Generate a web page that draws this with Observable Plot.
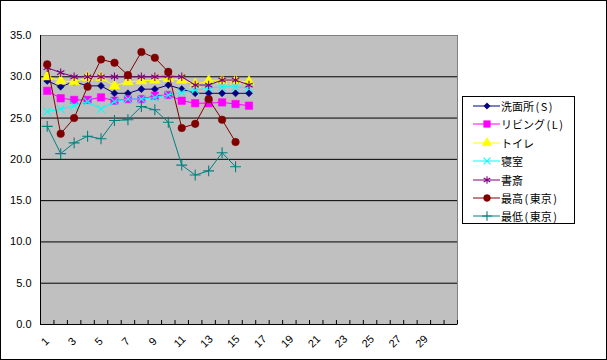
<!DOCTYPE html>
<html><head><meta charset="utf-8">
<script src="https://cdn.jsdelivr.net/npm/d3@7"></script>
<script src="https://cdn.jsdelivr.net/npm/@observablehq/plot@0.6"></script>
<style>
body{margin:0;background:#fff;}
#wrap{position:relative;width:607px;height:360px;overflow:hidden;background:#fff;}
#border{position:absolute;left:0;top:0;width:607px;height:360px;box-sizing:border-box;border:1px solid #000;pointer-events:none;}
#legend{position:absolute;left:462px;top:96px;width:113px;height:128px;box-sizing:border-box;border:1px solid #000;background:#fff;font-family:"Noto Sans CJK JP","Noto Sans",sans-serif;font-size:11px;color:#000;}
.item{position:absolute;left:0;height:16px;display:flex;align-items:center;white-space:nowrap;}
.item svg{display:block;}
.p{display:inline-block;margin:0 1.5px;}
</style></head>
<body>
<div id="wrap"></div>
<script>
const seriesNames = ["洗面所(S)","リビング(L)","トイレ","寝室","書斎","最高(東京)","最低(東京)"];
const senmenjo = [29.5,28.8,29.4,28.9,28.9,28.0,28.0,28.5,28.5,29.0,28.5,28.0,28.0,28.0,28.0,28.0];
const living   = [28.3,27.4,27.2,27.2,27.5,27.1,27.3,27.3,27.7,27.8,27.1,26.8,26.8,26.9,26.7,26.5];
const toilet   = [30.0,29.5,29.4,29.9,29.9,28.9,29.4,29.5,29.6,29.8,29.6,29.1,29.5,29.5,29.5,29.4];
const shinshitsu = [25.8,26.1,26.5,27.0,26.1,27.0,27.3,27.3,27.5,27.8,28.1,28.4,28.6,28.8,28.8,28.6];
const shosai   = [31.1,30.5,30.0,30.0,30.0,30.0,30.0,30.0,30.0,30.1,30.0,29.0,29.0,29.6,29.6,29.0];
const tokyoMax = [31.5,23.1,25.0,28.8,32.1,31.7,30.2,33.0,32.3,30.6,23.8,24.3,27.3,24.8,22.1];
const tokyoMin = [24.0,20.7,22.0,22.8,22.5,24.7,24.8,26.4,26.0,24.5,19.3,18.1,18.6,20.8,19.1];
const dayCount = 31;
const xTickLabels = [1,3,5,7,9,11,13,15,17,19,21,23,25,27,29];
const yTicks = [0,5,10,15,20,25,30,35];

const seriesValues = [senmenjo, living, toilet, shinshitsu, shosai, tokyoMax, tokyoMin];
const styles = [
  {color:"#000080", symbol:"diamond2", r:3.2, filled:true},
  {color:"#FF00FF", symbol:"square", r:4.2, filled:true},
  {color:"#FFFF00", symbol:"triangle", r:4.0, filled:true},
  {color:"#00FFFF", symbol:"times", r:3.6, filled:false},
  {color:"#800080", symbol:"asterisk", r:4.0, filled:false},
  {color:"#800000", symbol:"circle", r:3.8, filled:true},
  {color:"#008080", symbol:"plus", r:3.6, filled:false}
];

const tables = seriesValues.map((vals, s) => vals.map((v, i) => ({day: i + 1, value: v, series: seriesNames[s]})));
const boundaries = d3.range(0.5, dayCount + 1, 1);

const marks = [
  Plot.frame({fill:"#C0C0C0", stroke:"#808080"}),
  Plot.ruleY(yTicks.filter(d => d > 0 && d < 35), {stroke:"#000", strokeWidth:1}),
  Plot.ruleY([0], {stroke:"#000"}),
  Plot.ruleX([0.5], {stroke:"#000"}),
  Plot.ruleX(boundaries, {x: d => d, y1: 0, y2: 0, insetTop: -4, stroke:"#000"}),
  Plot.text(xTickLabels, {x: d => d, y: 0, dy: 17, dx: -2, rotate: -45, text: d => String(d), fontSize: 11, fontFamily: "Liberation Sans, Arial, sans-serif", fill:"#000"}),
  Plot.axisY({ticks: yTicks, tickFormat: d => d.toFixed(1), tickSize: 0, tickPadding: 9, fontSize: 11, fontFamily: "Liberation Sans, Arial, sans-serif", label: null})
];
tables.forEach((t, s) => {
  const st = styles[s];
  marks.push(Plot.line(t, {x:"day", y:"value", stroke: st.color, strokeWidth: 1}));
  marks.push(Plot.dot(t, {x:"day", y:"value", symbol: () => st.symbol, r: st.r,
    fill: st.filled ? st.color : "none", stroke: st.color, strokeWidth: st.filled ? 0.5 : 1.1}));
});

const chart = Plot.plot({
  width: 607, height: 360,
  marginLeft: 40, marginRight: 150, marginTop: 35, marginBottom: 36,
  style: {background: "transparent", overflow: "visible"},
  x: {domain: [0.5, dayCount + 0.5], axis: null},
  y: {domain: [0, 35], axis: null},
  marks
});

const wrap = document.getElementById("wrap");
wrap.appendChild(chart);

// legend
const legend = document.createElement("div");
legend.id = "legend";
const symMap = {diamond2: d3.symbolDiamond2, square: d3.symbolSquare, triangle: d3.symbolTriangle, times: d3.symbolTimes, asterisk: d3.symbolAsterisk, circle: d3.symbolCircle, plus: d3.symbolPlus};
seriesNames.forEach((name, s) => {
  const st = styles[s];
  const item = document.createElement("div");
  item.className = "item";
  item.style.top = (9 + 18.4 * s - 8) + "px";
  const svg = d3.create("svg").attr("width", 38).attr("height", 16);
  svg.append("line").attr("x1", 10).attr("x2", 37).attr("y1", 8).attr("y2", 8).attr("stroke", st.color).attr("stroke-width", 1);
  svg.append("path").attr("transform", "translate(24,8)")
    .attr("d", d3.symbol(symMap[st.symbol], Math.PI * st.r * st.r * 0.8)())
    .attr("fill", st.filled ? st.color : "none").attr("stroke", st.color).attr("stroke-width", st.filled ? 0.5 : 1.1);
  item.appendChild(svg.node());
  const span = document.createElement("span");
  for (const ch of name) {
    if (ch === "(" || ch === ")") {
      const p = document.createElement("span");
      p.className = "p";
      p.textContent = ch;
      span.appendChild(p);
    } else {
      span.appendChild(document.createTextNode(ch));
    }
  }
  item.appendChild(span);
  legend.appendChild(item);
});
wrap.appendChild(legend);
const border = document.createElement("div");
border.id = "border";
wrap.appendChild(border);
</script>
</body></html>
